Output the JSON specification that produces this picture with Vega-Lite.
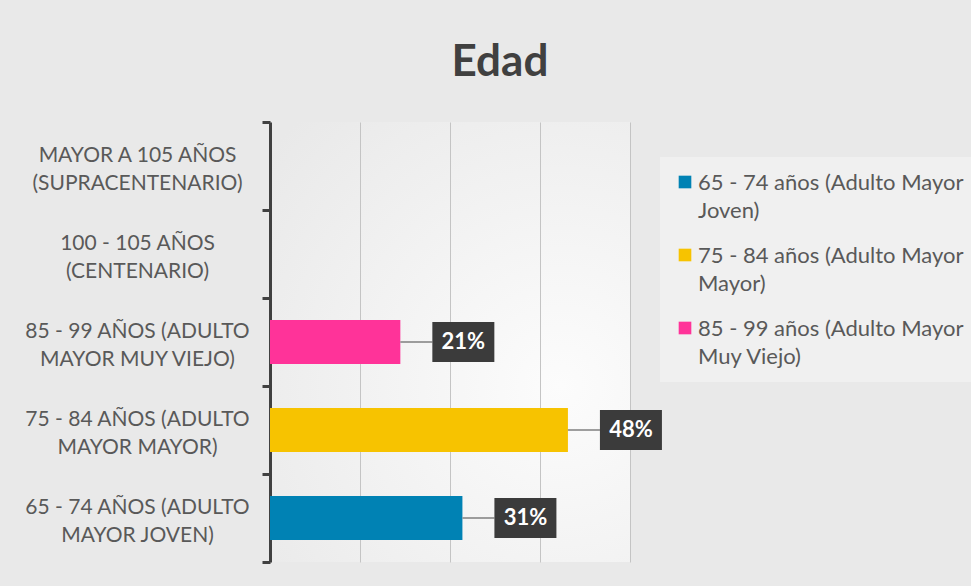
{
  "$schema": "https://vega.github.io/schema/vega-lite/v6.json",
  "autosize": {"type": "none"},
  "width": 360,
  "height": 440,
  "padding": {"left": 270, "top": 122, "right": 341, "bottom": 24},
  "background": "#e9e9e9",
  "title": {
    "text": "Edad",
    "font": "Lato",
    "fontSize": 44,
    "fontWeight": "bold",
    "color": "#404040",
    "anchor": "middle",
    "frame": "group",
    "baseline": "alphabetic",
    "dx": 50,
    "offset": -9
  },
  "data": {
    "values": [
      {"grupo": "85 - 99 AÑOS (ADULTO MAYOR MUY VIEJO)", "serie": "85 - 99 años (Adulto Mayor Muy Viejo)", "pct": 0.21},
      {"grupo": "75 - 84 AÑOS (ADULTO MAYOR MAYOR)", "serie": "75 - 84 años (Adulto Mayor Mayor)", "pct": 0.48},
      {"grupo": "65 - 74 AÑOS (ADULTO MAYOR JOVEN)", "serie": "65 - 74 años (Adulto Mayor Joven)", "pct": 0.31}
    ]
  },
  "encoding": {
    "y": {
      "field": "grupo",
      "type": "nominal",
      "sort": null,
      "scale": {
        "domain": [
          "MAYOR A 105 AÑOS (SUPRACENTENARIO)",
          "100 - 105 AÑOS (CENTENARIO)",
          "85 - 99 AÑOS (ADULTO MAYOR MUY VIEJO)",
          "75 - 84 AÑOS (ADULTO MAYOR MAYOR)",
          "65 - 74 AÑOS (ADULTO MAYOR JOVEN)"
        ],
        "paddingInner": 0,
        "paddingOuter": 0
      },
      "axis": {
        "title": null,
        "tickBand": "extent",
        "domainColor": "#404040",
        "domainWidth": 3,
        "tickColor": "#404040",
        "tickWidth": 3,
        "tickSize": 8,
        "labelPadding": 125,
        "labelFont": "Lato",
        "labelFontSize": 21,
        "labelColor": "#595959",
        "labelAlign": "center",
        "labelBaseline": "middle",
        "labelLineHeight": 28,
        "labelOffset": -11,
        "labelLimit": 300,
        "labelExpr": "indexof(datum.label, '(ADULTO') >= 0 ? [slice(datum.label, 0, indexof(datum.label, ' MAYOR')), slice(datum.label, indexof(datum.label, ' MAYOR') + 1)] : [slice(datum.label, 0, indexof(datum.label, ' (')), slice(datum.label, indexof(datum.label, ' (') + 1)]",
        "encode": {
          "labels": {
            "update": {
              "dx": {"signal": "datum.value === 'MAYOR A 105 AÑOS (SUPRACENTENARIO)' ? 8 : datum.value === '100 - 105 AÑOS (CENTENARIO)' ? 35 : 0"}
            }
          }
        }
      }
    },
    "x": {
      "field": "pct",
      "type": "quantitative",
      "scale": {"domain": [0, 0.58], "nice": false, "zero": true},
      "axis": {
        "title": null,
        "values": [0.145, 0.29, 0.435, 0.58],
        "grid": true,
        "gridColor": "#c4c4c4",
        "gridWidth": 1,
        "domain": false,
        "ticks": false,
        "labels": false
      }
    }
  },
  "layer": [
    {
      "mark": {"type": "bar", "height": {"band": 0.5}, "cornerRadius": 0},
      "encoding": {
        "color": {
          "field": "serie",
          "type": "nominal",
          "scale": {
            "domain": [
              "65 - 74 años (Adulto Mayor Joven)",
              "75 - 84 años (Adulto Mayor Mayor)",
              "85 - 99 años (Adulto Mayor Muy Viejo)"
            ],
            "range": ["#0082b4", "#f7c300", "#ff3399"]
          },
          "legend": {
            "title": null,
            "orient": "none",
            "legendX": 390,
            "legendY": 35,
            "fillColor": "#f0f0f0",
            "padding": 14,
            "symbolType": "square",
            "symbolSize": 160,
            "symbolStrokeWidth": 0,
            "symbolOpacity": 1,
            "labelFont": "Lato",
            "labelFontSize": 22,
            "labelColor": "#595959",
            "labelLimit": 320,
            "labelOffset": 2,
            "labelBaseline": "top",
            "rowPadding": 22,
            "labelExpr": "[slice(datum.label, 0, indexof(datum.label, ' Mayor') + 6), slice(datum.label, indexof(datum.label, ' Mayor') + 7)]",
            "encode": {"labels": {"update": {"dy": {"value": -9}, "lineHeight": {"value": 28}}}}
          }
        }
      }
    },
    {
      "mark": {"type": "rule", "x2Offset": 32, "color": "#7f7f7f", "strokeWidth": 1.5},
      "encoding": {"x2": {"field": "pct"}}
    },
    {
      "mark": {"type": "bar", "xOffset": 32, "x2Offset": 94, "height": 40, "color": "#3b3b3b"},
      "encoding": {"x2": {"field": "pct"}}
    },
    {
      "mark": {"type": "text", "xOffset": 63, "align": "center", "baseline": "middle", "font": "Lato", "fontSize": 22, "fontWeight": "bold", "color": "#ffffff"},
      "encoding": {"text": {"field": "pct", "type": "quantitative", "format": ".0%"}}
    }
  ],
  "config": {
    "view": {
      "stroke": null,
      "fill": {
        "gradient": "radial",
        "x1": 0.75, "y1": 0.6, "r1": 0,
        "x2": 0.75, "y2": 0.6, "r2": 0.85,
        "stops": [{"offset": 0, "color": "#fcfcfc"}, {"offset": 1, "color": "#e9e9e9"}]
      }
    }
  }
}
